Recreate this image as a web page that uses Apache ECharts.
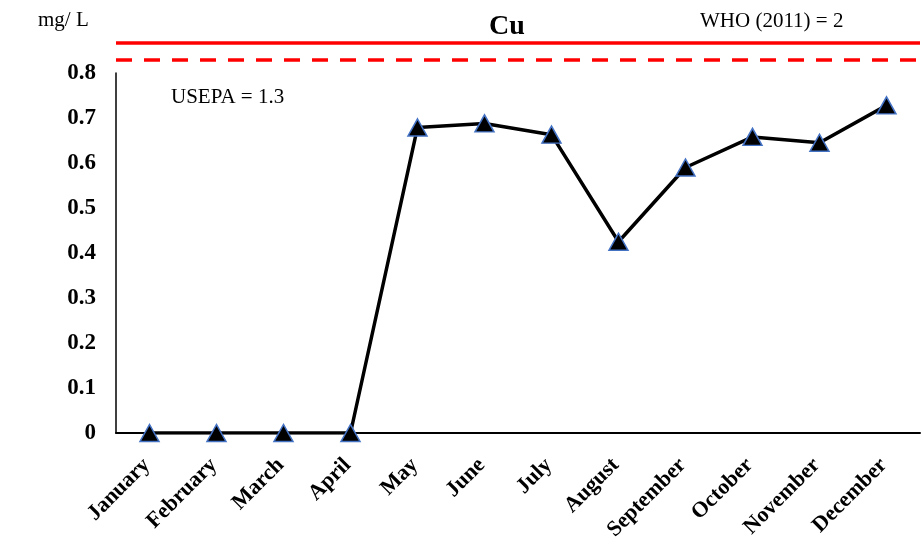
<!DOCTYPE html>
<html><head><meta charset="utf-8">
<script src="https://cdn.jsdelivr.net/npm/echarts@6/dist/echarts.min.js"></script>
<style>html,body{margin:0;padding:0;background:#fff}#c{width:923px;height:545px}</style>
</head><body><div id="c"></div>
<script>
const months = ['January','February','March','April','May','June','July','August','September','October','November','December'];
const cuValues = [0, 0, 0, 0, 0.679, 0.688, 0.663, 0.425, 0.590, 0.658, 0.645, 0.728];
const yTicks = [0, 0.8, 0.1];
const whoLimit = 2;
const usepaLimit = 1.3;
const F = '"Liberation Serif","Times New Roman",serif';

const chart = echarts.init(document.getElementById('c'), null, {renderer:'canvas'});
chart.setOption({
  animation:false,
  title:[
    {text:'Cu', left:502, top:8, textAlign:'center', textStyle:{fontFamily:F,fontSize:28,fontWeight:'bold',color:'#000'}},
    {text:'mg/ L', left:33, top:5, textStyle:{fontFamily:F,fontSize:21,fontWeight:'normal',color:'#000'}},
    {text:'WHO (2011) = '+whoLimit, left:695, top:6, textStyle:{fontFamily:F,fontSize:21,fontWeight:'normal',color:'#000'}},
    {text:'USEPA = '+usepaLimit, left:166, top:82, textStyle:{fontFamily:F,fontSize:21,fontWeight:'normal',color:'#000'}}
  ],
  grid:[
    {left:116, right:3, top:73, bottom:112},
    {left:116, right:3, top:40.6, height:21.9}
  ],
  xAxis:[
    {type:'category', data:months, gridIndex:0, boundaryGap:true,
     axisLine:{lineStyle:{color:'#000',width:2}}, axisTick:{show:false},
     axisLabel:{rotate:45, margin:26, padding:[0,4,0,0], interval:0, fontFamily:F, fontSize:22, fontWeight:'bold', color:'#000'}},
    {type:'category', data:months, gridIndex:1, show:false}
  ],
  yAxis:[
    {type:'value', gridIndex:0, min:yTicks[0], max:yTicks[1], interval:yTicks[2],
     axisLine:{show:true,lineStyle:{color:'#000',width:1.5}}, axisTick:{show:false}, splitLine:{show:false},
     axisLabel:{margin:20, fontFamily:F, fontSize:23, fontWeight:'bold', color:'#000', formatter:v=>String(Math.round(v*10)/10)}},
    {type:'value', gridIndex:1, min:1.2, max:2.1, show:false, splitLine:{show:false}}
  ],
  series:[
    {type:'line', xAxisIndex:0, yAxisIndex:0, data:cuValues,
     lineStyle:{color:'#000',width:3.5}, symbol:'triangle', symbolSize:[19,17],
     itemStyle:{color:'#000',borderColor:'#4472C4',borderWidth:1.5}},
    {type:'line', xAxisIndex:1, yAxisIndex:1, data:[], silent:true,
     markLine:{symbol:'none', silent:true, label:{show:false},
       data:[
         {yAxis:whoLimit, lineStyle:{color:'#ff0000',width:3.5,type:'solid'}},
         {yAxis:usepaLimit, lineStyle:{color:'#ff0000',width:3.5,type:[16,12]}}
       ]}}
  ]
});
</script></body></html>
